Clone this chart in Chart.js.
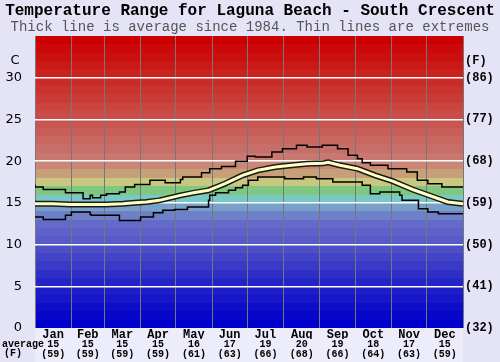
<!DOCTYPE html>
<html><head><meta charset="utf-8">
<script src="https://cdn.jsdelivr.net/npm/chart.js@4"></script>
<style>html,body{margin:0;padding:0;background:#e4e4f6;}canvas{display:block}</style>
</head><body>
<canvas id="c" width="500" height="362"></canvas>
<script>
// ---------- data ----------
const titleText = 'Temperature Range for Laguna Beach - South Crescent';
const subtitleText = 'Thick line is average since 1984. Thin lines are extremes';
const months = ['Jan','Feb','Mar','Apr','May','Jun','Jul','Aug','Sep','Oct','Nov','Dec'];
const avgC = [15,15,15,15,16,17,19,20,19,18,17,15];
const avgF = [59,59,59,59,61,63,66,68,66,64,63,59];
const monthStarts = [0,31,59,90,120,151,181,212,243,273,304,334,365];

const maxDay  = [0,7,26,41,47,49,56,61,72,77,85,98,111,124,126,142,149,159,171,181,188,202,211,223,232,245,258,267,275,279,286,301,317,326,335,347,356,365];
const maxTemp = [17.2,16.9,16.6,16.2,15.5,15.9,15.6,15.9,16.1,16.3,16.9,17.2,17.7,17.4,17.8,18.1,18.6,19.1,19.35,20.0,20.6,20.5,21.1,21.5,21.9,21.7,21.9,21.5,20.7,20.3,19.8,19.5,19.1,18.7,17.7,17.3,16.9,16.9];

const minDay  = [0,7,26,31,47,48,72,90,101,109,119,130,148,149,154,165,171,177,182,190,213,229,240,254,279,286,294,311,313,327,335,344,356,365];
const minTemp = [13.4,13.3,13.0,13.5,13.9,13.6,13.5,12.9,13.3,13.8,14.1,14.2,14.5,15.3,15.9,16.2,16.5,16.8,17.1,17.7,18.1,17.9,18.1,17.9,17.5,17.1,16.1,16.3,15.9,15.3,14.3,13.9,13.7,13.7];

const avgDay  = [0,15,30,45,60,75,85,95,106,115,124,135,148,162,177,190,205,221,232,246,250,260,275,290,305,322,340,352,365];
const avgTemp = [14.9,14.9,14.8,14.8,14.8,14.9,15.0,15.1,15.3,15.6,15.9,16.2,16.5,17.3,18.3,18.9,19.3,19.55,19.7,19.75,19.85,19.5,19.1,18.3,17.6,16.6,15.7,15.1,14.9];

// ---------- styles ----------
const PAGE_BG = '#e4e4f6';
const LABEL_BG = '#ececfb';
const bandStops = [
  [0,0,0,204],[5,36,36,200],[10,88,90,200],[12,100,106,200],[13,110,128,200],[14,120,160,200],
  [15,120,200,200],[16,128,200,128],[17,200,200,128],[18,200,160,120],[19,204,134,120],
  [20,200,120,112],[21,200,110,104],[34,204,0,0]
];
function bandColor(t){
  for (let i=0;i<bandStops.length-1;i++){
    const a=bandStops[i], b=bandStops[i+1];
    if (t>=a[0] && t<=b[0]){
      const f=(b[0]===a[0])?0:(t-a[0])/(b[0]-a[0]);
      const c=[1,2,3].map(k=>Math.round(a[k]+(b[k]-a[k])*f));
      return `rgb(${c[0]},${c[1]},${c[2]})`;
    }
  }
  return 'rgb(204,0,0)';
}
const pts = (xs, ys) => xs.map((d,i)=>({x:d, y:ys[i]}));
const monthMids = months.map((m,i)=>(monthStarts[i]+monthStarts[i+1])/2);
const mono = 'Liberation Mono, Courier New, monospace';

const bgPlugin = {
  id:'bg',
  beforeDraw(chart){
    const {ctx, chartArea:a} = chart; const y = chart.scales.y;
    ctx.save();
    ctx.fillStyle = PAGE_BG; ctx.fillRect(0,0,chart.width,chart.height);
    ctx.fillStyle = LABEL_BG; ctx.fillRect(a.left, a.bottom, a.right-a.left, chart.height-a.bottom);
    for (let t=0;t<35;t++){
      const top=Math.round(y.getPixelForValue(t+1)), bot=Math.round(y.getPixelForValue(t));
      ctx.fillStyle=bandColor(t); ctx.fillRect(a.left, top, a.right-a.left, bot-top);
    }
    ctx.restore();
  },
  afterDraw(chart){
    const {ctx} = chart; const y = chart.scales.y;
    ctx.save();
    ctx.fillStyle='#000'; ctx.textBaseline='middle';
    ctx.font='13px DejaVu Sans'; ctx.textAlign='center';
    ctx.fillText('C', 15, y.getPixelForValue(32));
    ctx.font='bold 12px '+mono; ctx.textAlign='left';
    ctx.fillText('(F)', 465, y.getPixelForValue(32));
    ctx.font='bold 10px '+mono; ctx.textAlign='left';
    ctx.fillText('average', 2, 344);
    ctx.textAlign='center';
    ctx.fillText('(F)', 13, 353);
    ctx.restore();
  }
};

new Chart(document.getElementById('c'), {
  type:'line',
  data:{ datasets:[
    {data:pts(avgDay,avgTemp), borderColor:'#ffffc0', borderWidth:3, pointRadius:0, xAxisID:'x', yAxisID:'y'},
    {data:pts(avgDay,avgTemp), borderColor:'#1a1a1a', borderWidth:6, pointRadius:0, xAxisID:'x', yAxisID:'y'},
    {data:pts(maxDay,maxTemp), borderColor:'#000', borderWidth:1.5, pointRadius:0, stepped:'after', xAxisID:'x', yAxisID:'y'},
    {data:pts(minDay,minTemp), borderColor:'#000', borderWidth:1.5, pointRadius:0, stepped:'after', xAxisID:'x', yAxisID:'y'}
  ]},
  options:{
    responsive:false, animation:false, devicePixelRatio:1,
    layout:{padding:0},
    plugins:{
      legend:{display:false}, tooltip:{enabled:false},
      title:{display:true, text:titleText, color:'#000', font:{family:mono, weight:'bold', size:16, lineHeight:1.1}, padding:{top:2,bottom:0}},
      subtitle:{display:true, text:subtitleText, color:'#555', font:{family:mono, size:14, lineHeight:1.1}, padding:{top:0,bottom:1}}
    },
    scales:{
      x:{type:'linear', min:0, max:365, position:'bottom', weight:0,
         grid:{display:false, drawTicks:false}, border:{display:false},
         afterBuildTicks:s=>{ s.ticks = monthMids.map(v=>({value:v})); },
         afterFit:s=>{ s.height=11; },
         ticks:{autoSkip:false, maxRotation:0, padding:1, color:'#000', font:{family:mono, weight:'bold', size:12, lineHeight:1},
                callback:(v,i)=>months[i]}},
      xv:{type:'linear', min:0, max:365, position:'bottom', weight:1,
         grid:{display:false, drawTicks:false}, border:{display:false},
         afterBuildTicks:s=>{ s.ticks = monthMids.map(v=>({value:v})); },
         afterFit:s=>{ s.height=23; },
         ticks:{autoSkip:false, maxRotation:0, padding:1, color:'#000', font:{family:mono, weight:'bold', size:10, lineHeight:0.95},
                callback:(v,i)=>[String(avgC[i]), '('+avgF[i]+')']}},
      xg:{type:'linear', min:0, max:365, position:'bottom', weight:2,
         grid:{display:true, color:'#777', lineWidth:1, drawTicks:false}, border:{display:false},
         afterBuildTicks:s=>{ s.ticks = monthStarts.map(v=>({value:v})); },
         afterFit:s=>{ s.height=0; },
         ticks:{display:false}},
      y:{type:'linear', min:0, max:35, position:'left',
         afterFit:s=>{ s.width=35; },
         grid:{color:c=>(c.tick && c.tick.value>0 && c.tick.value<35)?'#ffffff':'rgba(0,0,0,0)', lineWidth:1.5, drawTicks:false},
         border:{display:false},
         ticks:{stepSize:5, padding:13, color:'#000', font:{family:'DejaVu Sans', size:13},
                callback:v=>v===35?'':String(v)}},
      y2:{type:'linear', min:0, max:35, position:'right',
         afterFit:s=>{ s.width=37; },
         grid:{display:false, drawTicks:false}, border:{display:false},
         ticks:{stepSize:5, padding:2, color:'#000', font:{family:mono, weight:'bold', size:12},
                callback:v=>v===35?'':'('+Math.round(v*9/5+32)+')'}}
    }
  },
  plugins:[bgPlugin]
});
</script>
</body></html>
